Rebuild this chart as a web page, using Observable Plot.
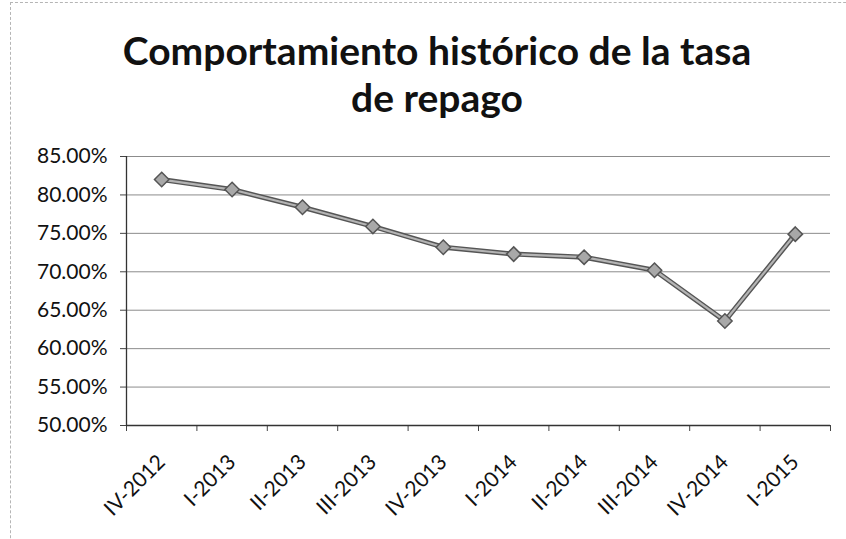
<!DOCTYPE html>
<html>
<head>
<meta charset="utf-8">
<script src="https://cdn.jsdelivr.net/npm/d3@7"></script>
<script src="https://cdn.jsdelivr.net/npm/@observablehq/plot@0.6"></script>
<style>
  html, body { margin: 0; padding: 0; background: #fff; }
  #wrap { position: relative; width: 846px; height: 539px; overflow: hidden; font-family: Lato, "Open Sans", sans-serif; }
  #border { position: absolute; left: 10px; top: 2px; width: 900px; height: 600px; border-left: 1px dashed #b5b5b5; border-top: 1px dashed #b5b5b5; }
  #title { position: absolute; left: 0; width: 874px; top: 27px; text-align: center; font-weight: 700; font-size: 39px; line-height: 47px; color: #111; }
  #chart { position: absolute; left: 0; top: 130px; }
</style>
</head>
<body>
<div id="wrap">
  <div id="border"></div>
  <div id="title">Comportamiento histórico de la tasa<br>de repago</div>
  <div id="chart"></div>
</div>
<script>
const periods = ["IV-2012", "I-2013", "II-2013", "III-2013", "IV-2013", "I-2014", "II-2014", "III-2014", "IV-2014", "I-2015"];
const repayRate = [0.820, 0.807, 0.784, 0.759, 0.732, 0.723, 0.719, 0.702, 0.636, 0.749];
const yTicks = [0.50, 0.55, 0.60, 0.65, 0.70, 0.75, 0.80, 0.85];

const data = periods.map((p, i) => ({period: p, i, value: repayRate[i]}));
const boundaries = d3.range(periods.length + 1).map(k => k - 0.5);
const centers = d3.range(periods.length);

const chart = Plot.plot({
  width: 846,
  height: 409,
  marginTop: 26,
  marginLeft: 126,
  marginRight: 16,
  marginBottom: 114,
  style: {fontFamily: "Lato, 'Open Sans', sans-serif", fontSize: "21px", color: "#111", background: "transparent"},
  x: {type: "linear", domain: [-0.5, periods.length - 0.5]},
  y: {domain: [0.5, 0.85]},
  marks: [
    Plot.gridY(yTicks.slice(1), {stroke: "#8c8c8c", strokeOpacity: 1, strokeWidth: 1}),
    Plot.axisY({ticks: yTicks, tickFormat: d => (d * 100).toFixed(2) + "%", tickSize: 6, tickPadding: 13, stroke: "#444", fontSize: 21, label: null}),
    Plot.axisX({ticks: boundaries, tickFormat: () => "", tickSize: 6, stroke: "#444", label: null}),
    Plot.axisX({ticks: centers, tickFormat: i => periods[i], tickSize: 0, tickPadding: 33, tickRotate: -45, fontSize: 21, label: null}),
    Plot.ruleX([-0.5], {stroke: "#333", strokeWidth: 1.3}),
    Plot.ruleY([0.5], {stroke: "#333", strokeWidth: 1.3}),
    Plot.line(data, {x: "i", y: "value", stroke: "#555", strokeWidth: 5}),
    Plot.line(data, {x: "i", y: "value", stroke: "#b4b4b4", strokeWidth: 2.2}),
    Plot.dot(data, {x: "i", y: "value", symbol: "diamond2", r: 6.5, fill: "#a8a8a8", stroke: "#555", strokeWidth: 1.5})
  ]
});
document.getElementById("chart").appendChild(chart);
</script>
</body>
</html>
